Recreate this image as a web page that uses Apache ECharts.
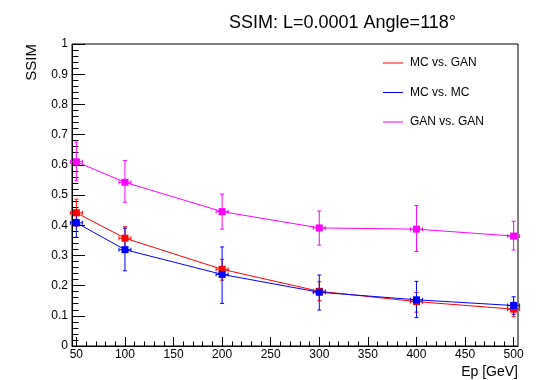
<!DOCTYPE html>
<html>
<head>
<meta charset="utf-8">
<script src="https://cdn.jsdelivr.net/npm/echarts@6/dist/echarts.min.js"></script>
<style>html,body{margin:0;padding:0;background:#fff;}#c{width:539px;height:380px;}</style>
</head>
<body>
<div id="c"></div>
<script>
const titleText = 'SSIM: L=0.0001 Angle=118°';
const xName = 'Ep [GeV]';
const yName = 'SSIM';
const energies = [50, 100, 200, 300, 400, 500];
const xMajorTicks = [50, 100, 150, 200, 250, 300, 350, 400, 450, 500];
const xMinorTicks = [60, 70, 80, 90, 110, 120, 130, 140, 160, 170, 180, 190, 210, 220, 230, 240, 260, 270, 280, 290, 310, 320, 330, 340, 360, 370, 380, 390, 410, 420, 430, 440, 460, 470, 480, 490];
const seriesNames = ['MC vs. GAN', 'MC vs. MC', 'GAN vs. GAN'];
const mcGan = [0.441, 0.357, 0.254, 0.181, 0.147, 0.122];
const mcGanHi = [0.486, 0.395, 0.287, 0.213, 0.177, 0.145];
const mcGanLo = [0.396, 0.320, 0.218, 0.150, 0.112, 0.097];
const mcMc = [0.408, 0.319, 0.237, 0.178, 0.153, 0.134];
const mcMcHi = [0.450, 0.390, 0.328, 0.235, 0.214, 0.163];
const mcMcLo = [0.360, 0.249, 0.141, 0.119, 0.094, 0.105];
const ganGan = [0.610, 0.542, 0.445, 0.391, 0.387, 0.364];
const ganGanHi = [0.675, 0.614, 0.503, 0.447, 0.465, 0.413];
const ganGanLo = [0.547, 0.476, 0.387, 0.334, 0.313, 0.318];

const colors = ['#ff0000', '#0000ff', '#ff00ff'];
const FONT = 'Liberation Sans, Arial, Helvetica, sans-serif';

function errSeries(name, vals, lo, hi, color) {
  return {
    type: 'custom',
    name: name + ' err',
    xAxisIndex: 0,
    yAxisIndex: 0,
    data: energies.map((x, i) => [x, vals[i], lo[i], hi[i]]),
    renderItem: function (params, api) {
      const c = api.coord([api.value(0), api.value(1)]);
      const t = api.coord([api.value(0), api.value(3)]);
      const b = api.coord([api.value(0), api.value(2)]);
      const hw = 6, cap = 2;
      const st = { stroke: color, lineWidth: 1 };
      return {
        type: 'group',
        children: [
          { type: 'line', shape: { x1: c[0], y1: t[1], x2: c[0], y2: b[1] }, style: st },
          { type: 'line', shape: { x1: c[0] - cap, y1: t[1], x2: c[0] + cap, y2: t[1] }, style: st },
          { type: 'line', shape: { x1: c[0] - cap, y1: b[1], x2: c[0] + cap, y2: b[1] }, style: st },
          { type: 'line', shape: { x1: c[0] - hw, y1: c[1], x2: c[0] + hw, y2: c[1] }, style: st },
          { type: 'line', shape: { x1: c[0] - hw, y1: c[1] - cap, x2: c[0] - hw, y2: c[1] + cap }, style: st },
          { type: 'line', shape: { x1: c[0] + hw, y1: c[1] - cap, x2: c[0] + hw, y2: c[1] + cap }, style: st }
        ]
      };
    },
    silent: true
  };
}
function lineSeries(name, vals, color) {
  return {
    type: 'line',
    name: name,
    xAxisIndex: 0,
    yAxisIndex: 0,
    data: energies.map((x, i) => [x, vals[i]]),
    symbol: 'rect',
    symbolSize: 7,
    showSymbol: true,
    lineStyle: { color: color, width: 1 },
    itemStyle: { color: color },
    animation: false
  };
}

const chart = echarts.init(document.getElementById('c'), null, { renderer: 'canvas' });
chart.setOption({
  animation: false,
  backgroundColor: '#ffffff',
  title: {
    text: titleText,
    left: 224,
    top: 9,
    padding: 5,
    textStyle: { fontFamily: FONT, fontSize: 18, fontWeight: 'normal', color: '#000' }
  },
  legend: {
    data: seriesNames,
    orient: 'vertical',
    left: 383,
    top: 57,
    padding: 0,
    icon: 'rect',
    itemWidth: 20,
    itemHeight: 1,
    itemGap: 17.5,
    textStyle: { fontFamily: FONT, fontSize: 12, color: '#000', padding: [0, 0, 0, 2] }
  },
  grid: {
    left: 72, right: 21, top: 44, bottom: 34,
    show: true, borderColor: '#000', borderWidth: 1, backgroundColor: 'transparent'
  },
  xAxis: [{
    type: 'value',
    min: 45.5, max: 504.5,
    name: xName,
    nameLocation: 'end',
    nameGap: 0,
    nameTextStyle: { fontFamily: FONT, fontSize: 14, color: '#000', align: 'right', verticalAlign: 'top', padding: [19, 0, 0, 0] },
    axisLine: { show: true, lineStyle: { color: '#000', width: 1 } },
    axisTick: { show: true, inside: true, length: 9, customValues: xMajorTicks, lineStyle: { color: '#000' } },
    axisLabel: { show: true, customValues: xMajorTicks, margin: 3, fontFamily: FONT, fontSize: 12, color: '#000' },
    splitLine: { show: false }
  }, {
    type: 'value',
    min: 45.5, max: 504.5,
    position: 'bottom',
    axisLine: { show: false },
    axisTick: { show: true, inside: true, length: 4.5, customValues: xMinorTicks, lineStyle: { color: '#000' } },
    axisLabel: { show: false },
    splitLine: { show: false }
  }],
  yAxis: [{
    type: 'value',
    min: 0, max: 1, interval: 0.1,
    name: yName,
    nameLocation: 'end',
    nameRotate: 90,
    nameGap: 0,
    nameTextStyle: { fontFamily: FONT, fontSize: 15, color: '#000', align: 'right', verticalAlign: 'bottom', padding: [0, 0, 33, 0] },
    axisLine: { show: true, lineStyle: { color: '#000', width: 1 } },
    axisTick: { show: true, inside: true, length: 13, lineStyle: { color: '#000' } },
    minorTick: { show: true, splitNumber: 5, length: 6.5, lineStyle: { color: '#000' } },
    axisLabel: { margin: 4, fontFamily: FONT, fontSize: 12, color: '#000' },
    splitLine: { show: false },
    minorSplitLine: { show: false }
  }],
  series: [
    errSeries(seriesNames[0], mcGan, mcGanLo, mcGanHi, colors[0]),
    lineSeries(seriesNames[0], mcGan, colors[0]),
    errSeries(seriesNames[1], mcMc, mcMcLo, mcMcHi, colors[1]),
    lineSeries(seriesNames[1], mcMc, colors[1]),
    errSeries(seriesNames[2], ganGan, ganGanLo, ganGanHi, colors[2]),
    lineSeries(seriesNames[2], ganGan, colors[2])
  ]
});
</script>
</body>
</html>
